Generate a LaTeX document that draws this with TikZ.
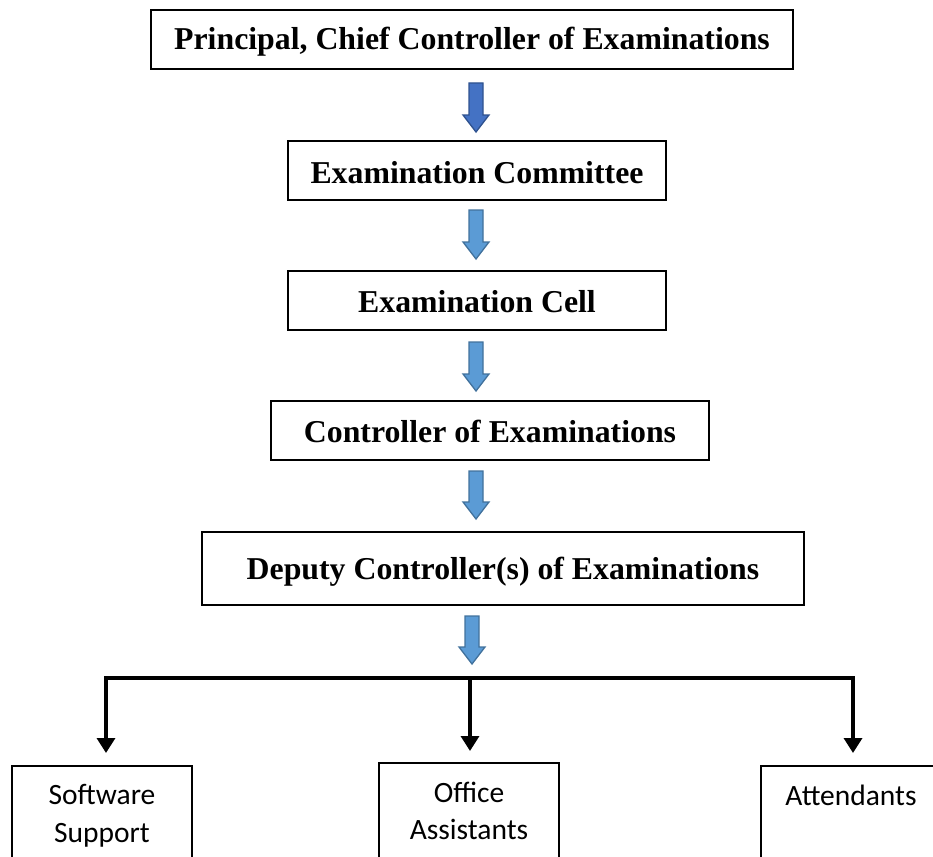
\documentclass[tikz,border=0pt]{standalone}
\usepackage{fontspec}
\setmainfont{Liberation Serif}
\newfontfamily\bodyfont{Carlito}
\usetikzlibrary{arrows.meta}
\definecolor{arrowfill}{HTML}{5B9BD5}
\definecolor{arrowedge}{HTML}{41719C}
\definecolor{topfill}{HTML}{4472C4}
\definecolor{topedge}{HTML}{2F528F}
\tikzset{
  titlebox/.style={draw=black, line width=1.3pt, inner sep=0pt,
    font=\fontsize{31.8}{36}\selectfont\bfseries},
  titletext/.style={font=\fontsize{31.8}{36}\selectfont\bfseries, inner sep=0pt},
  staffbox/.style={draw=black, line width=1.3pt},
  stafftext/.style={font=\bodyfont\fontsize{29.5}{37.5}\selectfont, align=center, inner sep=0pt},
  branch/.style={line width=3.4pt, -{Triangle[length=15pt,width=18pt]}},
}
% block arrow pointing down: top centre (#1,#2), tip at y #3
\newcommand{\blockarrow}[5]{%
  \filldraw[fill=#4, draw=#5, line width=1.3pt, line join=miter]
    (#1-7,#2) -- (#1+7,#2) -- (#1+7,#3-17) -- (#1+13,#3-17) -- (#1,#3)
    -- (#1-13,#3-17) -- (#1-7,#3-17) -- cycle;}
\begin{document}
\begin{tikzpicture}[x=1pt,y=-1pt]
\useasboundingbox (0,0) rectangle (933,856);
\clip (0,0) rectangle (933,856);

% chain of offices: frames, then their titles
\node[titlebox, minimum width=642pt, minimum height=59pt] (principal) at (472,39.5) {};
\node[titlebox, minimum width=378pt, minimum height=59pt] (committee) at (477,170.5) {};
\node[titlebox, minimum width=378pt, minimum height=59pt] (cell) at (477,300.5) {};
\node[titlebox, minimum width=438pt, minimum height=59pt] (coe) at (490,430.5) {};
\node[titlebox, minimum width=602pt, minimum height=73pt] (deputy) at (503,568.5) {};
\node[titletext, yshift=-2.5pt] (principalT) at (principal) {Principal, Chief Controller of Examinations};
\node[titletext, yshift=-2pt] (committeeT) at (committee) {Examination Committee};
\node[titletext, yshift=-1pt] (cellT) at (cell) {Examination Cell};
\node[titletext, yshift=-1pt] (coeT) at (coe) {Controller of Examinations};
\node[titletext, yshift=-3pt] (deputyT) at (deputy) {Deputy Controller(s) of Examinations};

% block arrows between the levels
\blockarrow{476}{83}{132}{topfill}{topedge}
\blockarrow{476}{210}{259}{arrowfill}{arrowedge}
\blockarrow{476}{342}{391}{arrowfill}{arrowedge}
\blockarrow{476}{471}{519}{arrowfill}{arrowedge}
\blockarrow{472}{616}{664}{arrowfill}{arrowedge}

% supporting staff (boxes run past the lower edge)
\draw[staffbox] (12,766) rectangle (192,900);
\draw[staffbox] (379,763) rectangle (559,900);
\draw[staffbox] (761,766) rectangle (941,900);
\node[stafftext] (software) at (102,816) {Software\\Support};
\node[stafftext] (office) at (469,811) {Office\\Assistants};
\node[stafftext] (attend) at (851,795) {Attendants};

% distribution bar
\coordinate (barL) at (106,678);
\coordinate (barM) at (470,678);
\coordinate (barR) at (853,678);
\coordinate (tipL) at (106,753);
\coordinate (tipM) at (470,751);
\coordinate (tipR) at (853,753);
\draw[line width=3.4pt] ([xshift=-1.7pt]barL) -- ([xshift=1.7pt]barR);
\draw[branch] (barL) -- (tipL);
\draw[branch] (barM) -- (tipM);
\draw[branch] (barR) -- (tipR);
\end{tikzpicture}
\end{document}
